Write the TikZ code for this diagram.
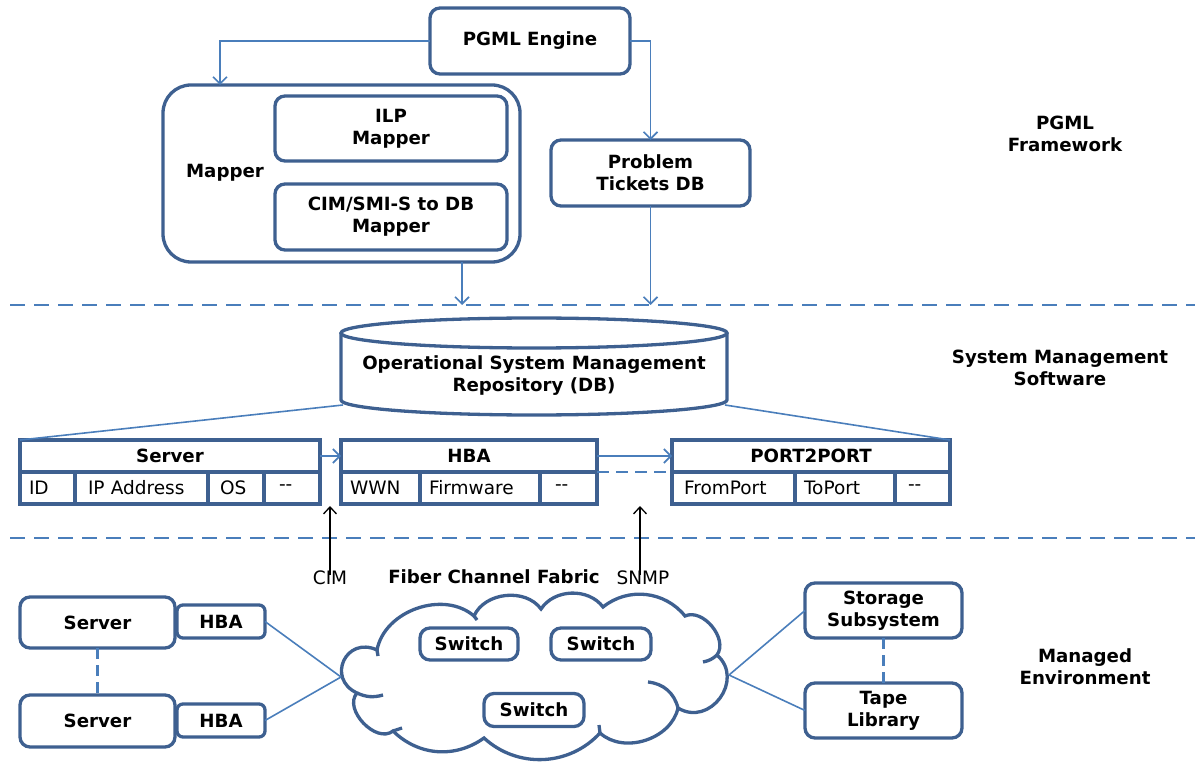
\documentclass[tikz,border=0pt]{standalone}
\usepackage{fontspec}
\setmainfont{DejaVu Sans}
\usetikzlibrary{calc, positioning, arrows.meta}
\definecolor{boxblue}{HTML}{3E6090}
\definecolor{linkblue}{HTML}{4A7EBB}

\begin{document}
\begin{tikzpicture}[
  x=1pt, y=1pt,
  every node/.style={font=\fontsize{18.5}{22}\selectfont, inner sep=0pt, outer sep=0pt},
  box/.style={draw=boxblue, line width=3.3pt, rounded corners=10pt, fill=white,
    align=center, font=\fontsize{18.2}{22}\selectfont\bfseries},
  label/.style={align=center, font=\fontsize{18.2}{22}\selectfont\bfseries},
  thead/.style={draw=boxblue, line width=3.3pt, minimum height=32,
    font=\fontsize{18.2}{22}\selectfont\bfseries},
  tcell/.style={draw=boxblue, line width=3.3pt, minimum height=32,
    text width=#1, inner xsep=9pt, align=left},
  link/.style={draw=linkblue, line width=1.6pt},
  arr/.style={link, -{Straight Barb[length=7pt, width=14pt]}},
  probe/.style={draw=black, line width=1.3pt, -{Straight Barb[length=7pt, width=13pt]}},
  dlink/.style={draw=linkblue, line width=3pt, dash pattern=on 11pt off 6pt},
  sep/.style={draw=linkblue, line width=2.2pt, dash pattern=on 15pt off 9pt},
  puff/.style={draw=boxblue, line width=3.3pt},
]
\useasboundingbox (0,0) rectangle (1198,761);

% separators
\coordinate (sep1) at (10,456);
\coordinate (sep2) at (10,223);
\draw[sep] (sep1) -- (1195,456);
\draw[sep] (sep2) -- (1195,223);

% PGML framework
\node[box, minimum width=200, minimum height=66] (engine) at (530,720) {PGML Engine};
\node[box, rounded corners=28pt, minimum width=357, minimum height=177] (mapper) at (341.5,587.5) {};
\node[label] (mapper-lbl) at (225,588) {Mapper};
\node[box, minimum width=232, minimum height=65] (ilp) at (391,632.5) {ILP\\Mapper};
\node[box, minimum width=232, minimum height=66] (cimmap) at (391,544) {CIM/SMI-S to DB\\Mapper};
\node[box, minimum width=199, minimum height=66] (tickets) at (650.5,588) {Problem\\Tickets DB};

\draw[arr] (engine.west) -| ($(mapper.north west)+(57,0)$);
\draw[arr] (engine.east) -| (tickets.north);
\coordinate (m-out) at ($(mapper.south west)+(299,0)$);
\draw[arr] (m-out) -- (m-out |- sep1);
\draw[arr] (tickets.south) -- (tickets.south |- sep1);

\node[label] (fw-lbl) at (1065,627) {PGML\\Framework};

% repository
\coordinate (db-bl) at (343,356);
\coordinate (db-br) at (725,356);
\draw[boxblue, line width=3.3pt] (341,428) -- (341,361)
  arc[start angle=180, end angle=360, x radius=193, y radius=15] -- (727,428);
\draw[boxblue, line width=3.3pt] (534,428) ellipse [x radius=193, y radius=15];
\node[label] (db) at (534,385) {Operational System Management\\Repository (DB)};
\node[label] (sms-lbl) at (1060,393) {System Management\\Software};

% tables
\node[thead, minimum width=300] (srv) at (170,305) {Server};
\node[tcell=37, below right=0 and 0 of srv.south west] (srv-id) {ID};
\node[tcell=115, right=0 of srv-id] (srv-ip) {\hspace{4pt}IP Address};
\node[tcell=38, right=0 of srv-ip] (srv-os) {\hspace{3pt}OS};
\node[tcell=38, right=0 of srv-os] (srv-etc) {\hspace{6pt}-{}-};

\node[thead, minimum width=256] (hba) at (469,305) {HBA};
\node[tcell=61, below right=0 and 0 of hba.south west] (hba-wwn) {WWN};
\node[tcell=102, right=0 of hba-wwn] (hba-fw) {Firmware};
\node[tcell=39, right=0 of hba-fw] (hba-etc) {\hspace{6pt}-{}-};

\node[thead, minimum width=278] (p2p) at (811,305) {PORT2PORT};
\node[tcell=105, below right=0 and 0 of p2p.south west] (p2p-from) {\hspace{3pt}FromPort};
\node[tcell=82, right=0 of p2p-from] (p2p-to) {ToPort};
\node[tcell=37, right=0 of p2p-to] (p2p-etc) {\hspace{4pt}-{}-};

\draw[link] (db-bl) -- (srv.north west);
\draw[link] (db-br) -- (p2p.north east);
\draw[arr] (srv.east) -- (hba.west);
\draw[arr] (hba.east) -- (p2p.west);
\draw[link, line width=2pt, dash pattern=on 12pt off 7pt] (hba.south east) -- (p2p.south west);

% probes
\node (cim) at (330,183) {CIM};
\node (snmp) at (643,183) {SNMP};
\draw[probe] ([yshift=-4]cim.north) -- ([yshift=-2]cim.north |- srv-os.south);
\draw[probe] ([xshift=-3,yshift=-4]snmp.north) -- ([xshift=-3,yshift=-2]snmp.north |- hba-etc.south);

% fabric cloud
\coordinate (fab-w) at (341,84);
\coordinate (fab-e) at (729,86);
\draw[puff, fill=white] (357,68) to[bend left=90, looseness=1.85] (377,111)
  to[bend left=60] (474,145) to[bend left=60] (541,152) to[bend left=55] (603,154)
  to[bend left=45] (685,145) to[bend left=75] (717,106)
  to[bend left=85, looseness=1.45] (678,53) to[bend left=60] (600,28)
  to[bend left=45] (484,23) to[bend left=40] (393,30)
  to[bend left=85, looseness=1.05] cycle;
\draw[puff] (357,68) to[bend right=20] (383,66);
\draw[puff] (648,79) to[bend left=35] (678,53);
\draw[puff] (717,106) to[bend left=15] (703,99);
\draw[puff] (377,111) -- (378,105);
\draw[puff] (474,145) -- (477,141);
\draw[puff] (600,28) -- (599,36);
\draw[puff] (393,30) -- (402,33);
\node[label] (fabric-lbl) at (494,184) {Fiber Channel Fabric};
\node[box, minimum width=98, minimum height=32] (sw1) at (469,117) {Switch};
\node[box, minimum width=100, minimum height=32] (sw2) at (601,117) {Switch};
\node[box, minimum width=100, minimum height=33] (sw3) at (534,51) {Switch};

% managed environment
\node[box, minimum width=155, minimum height=51] (srv1) at (97.5,138.5) {Server};
\node[box, rounded corners=6pt, minimum width=88, minimum height=33] (hba1) at (221,139.5) {HBA};
\node[box, minimum width=155, minimum height=52] (srv2) at (97.5,40) {Server};
\node[box, rounded corners=6pt, minimum width=88, minimum height=33] (hba2) at (221,40.5) {HBA};
\draw[dlink] (srv1.south) -- (srv2.north);

\node[box, minimum width=157, minimum height=55] (stor) at (883.5,150.5) {Storage\\Subsystem};
\node[box, minimum width=157, minimum height=55] (tape) at (883.5,50.5) {Tape\\Library};
\draw[dlink] (stor.south) -- (tape.north);

\draw[link] (hba1.east) -- (fab-w);
\draw[link] (hba2.east) -- (fab-w);
\draw[link] (fab-e) -- (stor.west);
\draw[link] (fab-e) -- (tape.west);

\node[label] (me-lbl) at (1085,94) {Managed\\Environment};
\end{tikzpicture}
\end{document}
